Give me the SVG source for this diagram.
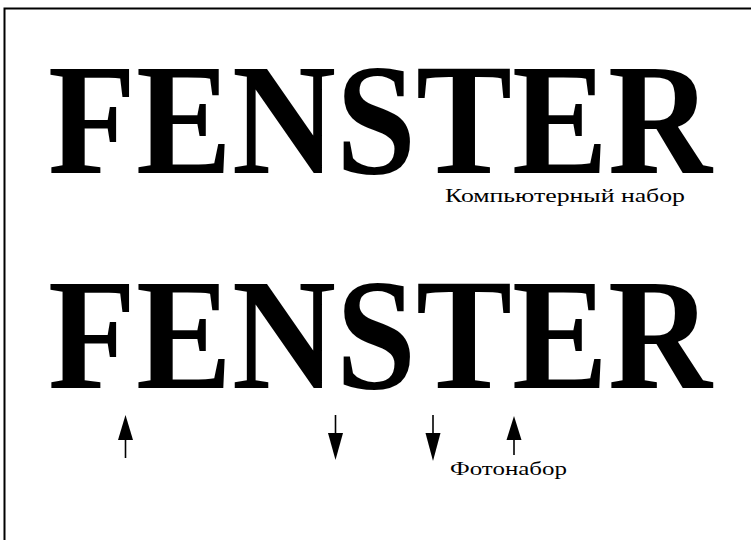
<svg xmlns="http://www.w3.org/2000/svg" width="751" height="540" viewBox="0 0 751 540">
<style>
.big{font-family:"Liberation Serif","Times New Roman",serif;font-weight:bold;font-size:158px;fill:#000}
.lbl{font-family:"Liberation Serif","Times New Roman",serif;font-size:19px;fill:#000}
.shaft{stroke:#000;stroke-width:1.6;fill:none}
.head{fill:#000}
</style>
<rect width="751" height="540" fill="#fff"/>
<g id="frame">
<path d="M4.5,540 V8.5 H751" fill="none" stroke="#000" stroke-width="2"/>
</g>
<g id="computer">
<text class="big" x="48" y="173" textLength="664" lengthAdjust="spacingAndGlyphs">FENSTER</text>
<text class="lbl" x="445" y="202" textLength="240" lengthAdjust="spacingAndGlyphs">Компьютерный набор</text>
</g>
<g id="photo">
<text class="big" x="48" y="388" textLength="664" lengthAdjust="spacingAndGlyphs">FENSTER</text>
<text class="lbl" x="450" y="475" textLength="117" lengthAdjust="spacingAndGlyphs">Фотонабор</text>
</g>
<g id="connectors">
<line class="shaft" x1="125.5" y1="438" x2="125.5" y2="458"/>
<polygon class="head" points="125.5,415 118,440 133,440"/>
<line class="shaft" x1="335.5" y1="415" x2="335.5" y2="436"/>
<polygon class="head" points="335.5,460 328,433 343,433"/>
<line class="shaft" x1="433" y1="415" x2="433" y2="436"/>
<polygon class="head" points="433,461 425.5,433 440.5,433"/>
<line class="shaft" x1="514" y1="438" x2="514" y2="455"/>
<polygon class="head" points="514,416 506.5,440 521.5,440"/>
</g>
</svg>
